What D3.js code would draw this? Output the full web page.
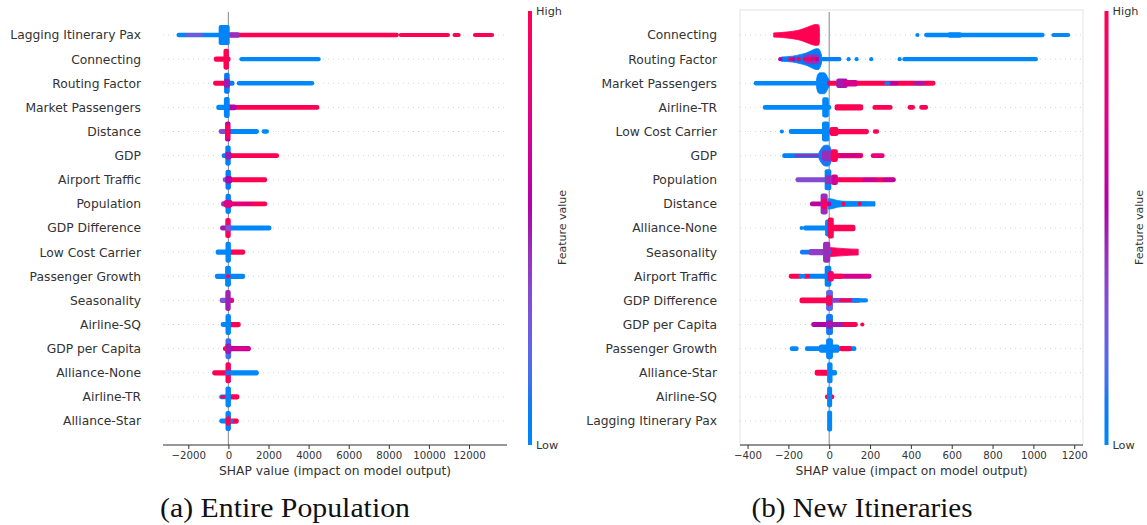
<!DOCTYPE html>
<html>
<head>
<meta charset="utf-8">
<script src="https://cdn.jsdelivr.net/npm/d3@7/dist/d3.min.js"></script>
<style>
  html, body { margin: 0; padding: 0; background: #fff; }
  svg { display: block; }
  text { font-family: "DejaVu Sans", sans-serif; fill: #333; }
  .caption { font-family: "Liberation Serif", "DejaVu Serif", serif; fill: #111; }
</style>
</head>
<body>
<svg id="chart" width="1147" height="525"></svg>
<script>
// ---------- Panel (a): Entire Population ----------
const featuresA = [
  "Lagging Itinerary Pax", "Connecting", "Routing Factor", "Market Passengers",
  "Distance", "GDP", "Airport Traffic", "Population", "GDP Difference",
  "Low Cost Carrier", "Passenger Growth", "Seasonality", "Airline-SQ",
  "GDP per Capita", "Alliance-None", "Airline-TR", "Alliance-Star"
];
const ticksA = [-2000, 0, 2000, 4000, 6000, 8000, 10000, 12000];
const domainA = [-3262, 13895];
// runs of SHAP values: [feature row, feature value (0 low .. 1 high), from, to, stacked points]
const runsA = [
  [0, 0.02, -2480, -300, 1.1], [0, 0.3, -2050, -1350, 0.8],
  [0, 1, 150, 8400, 1.05], [0, 1, 8600, 10950, 1.0], [0, 1, 11280, 11480, 1.0], [0, 1, 12300, 13150, 1.0],
  [0, 0.45, 60, 480, 1.3], [0, 0.03, -380, -40, 4.8],
  [1, 0, 650, 4500, 1.05], [1, 1, -620, 0, 1.25], [1, 1, -140, -80, 5],
  [2, 0, 520, 4180, 1.05], [2, 1, -660, 0, 1.15], [2, 0.05, -30, 200, 1.2],
  [2, 0.08, -110, -40, 5], [2, 0.5, -120, -20, 2.2],
  [3, 0, -500, 0, 1.3], [3, 1, 50, 4430, 1.15], [3, 0.55, 50, 300, 1.4], [3, 0.03, -120, -40, 5],
  [4, 0.35, -380, 0, 1.15], [4, 0, 0, 1420, 1.15], [4, 0, 1760, 1920, 1.05],
  [4, 0.6, -60, 0, 4.8], [4, 1, -40, -20, 3.5],
  [5, 0.05, -230, 0, 1.15], [5, 1, 0, 2420, 1.15], [5, 0.05, -50, 10, 4.8], [5, 0.5, -60, 60, 1.8],
  [6, 0.3, -180, 0, 1.15], [6, 1, 0, 1830, 1.15], [6, 0.08, -40, 20, 4.8], [6, 0.55, -50, 80, 1.8],
  [7, 0.45, -260, 0, 1.3], [7, 1, 0, 1830, 1.15], [7, 0.7, 300, 1100, 0.6],
  [7, 0.05, -40, 20, 4.8], [7, 0.75, -120, 100, 1.8],
  [8, 0.5, -310, 0, 1.15], [8, 0, 0, 2040, 1.15], [8, 0.95, -50, 10, 4.8], [8, 0.3, -40, 60, 1.6],
  [9, 0, -530, 0, 1.25], [9, 1, 0, 730, 1.25], [9, 0, -40, 20, 5],
  [10, 0, -570, 730, 1.25], [10, 0, -60, 20, 5], [10, 0.95, -20, 0, 1.0],
  [11, 0.3, -330, 0, 1.3], [11, 0.85, 0, 180, 1.3], [11, 0.48, -50, 10, 5],
  [12, 0, -280, 0, 1.15], [12, 1, 0, 510, 1.25], [12, 0, -40, 20, 5],
  [13, 1, -170, 0, 1.15], [13, 0.6, 0, 1010, 1.25], [13, 0.78, 300, 1010, 0.7],
  [13, 0.15, -40, 30, 5], [13, 0.5, -50, 40, 2.5],
  [14, 1, -700, 0, 1.25], [14, 0, 0, 1410, 1.25], [14, 0.95, -40, 20, 5], [14, 0.05, -60, 60, 1.2],
  [15, 0, -350, 0, 1.15], [15, 1, -300, -180, 0.8], [15, 1, 0, 440, 1.25], [15, 0, -40, 20, 5],
  [16, 0, -350, 0, 1.15], [16, 1, 0, 410, 1.25], [16, 0.1, 60, 150, 1.0],
  [16, 0.05, -40, 20, 4.8], [16, 1, -30, 10, 2.2]
];
const violinsA = [];
const dotsA = [];

// ---------- Panel (b): New Itineraries ----------
const featuresB = [
  "Connecting", "Routing Factor", "Market Passengers", "Airline-TR",
  "Low Cost Carrier", "GDP", "Population", "Distance", "Alliance-None",
  "Seasonality", "Airport Traffic", "GDP Difference", "GDP per Capita",
  "Passenger Growth", "Alliance-Star", "Airline-SQ", "Lagging Itinerary Pax"
];
const ticksB = [-400, -200, 0, 200, 400, 600, 800, 1000, 1200];
const domainB = [-437, 1243];
// dense clouds: [feature row, feature value, [[SHAP value, stacked points], ...]]
const violinsB = [
  [0, 1, [[-272, 1], [-200, 1.5], [-150, 2.3], [-118, 3.3], [-95, 4.2], [-78, 4.8], [-62, 5], [-52, 4.8], [-48, 3.5]]],
  [1, 0.08, [[-235, 1], [-180, 1.4], [-140, 2.2], [-110, 3], [-88, 4], [-70, 4.8], [-55, 5], [-45, 4], [-38, 2]]],
  [2, 0.02, [[-62, 2], [-56, 4.2], [-45, 5], [-25, 5], [-14, 4], [-6, 2.5], [2, 1.3]]],
  [5, 0.1, [[-50, 1.5], [-38, 3.5], [-25, 4.8], [-10, 5], [2, 4.5], [10, 2.5]]],
  [7, 0, [[-5, 2.5], [15, 2.3], [40, 1.6], [80, 1.2], [224, 1.05]]],
  [9, 0.95, [[0, 2.2], [40, 1.9], [100, 1.5], [142, 1.4]]]
];
const runsB = [
  [0, 0, 475, 1045, 1.05], [0, 0, 1098, 1170, 1.0], [0, 0, 590, 640, 1.3],
  [1, 0.45, -110, -60, 2.2], [1, 0.05, -45, 50, 1.05], [1, 0, 368, 1012, 1.05],
  [2, 0, -360, -20, 1.05], [2, 1, 0, 510, 1.15], [2, 0.55, 300, 330, 1.0], [2, 0.5, 420, 460, 1.0],
  [2, 0.1, 280, 290, 1.0], [2, 0.5, 45, 80, 2.3], [2, 0.7, 80, 130, 1.6],
  [3, 0, -315, 0, 1.15], [3, 0, -24, -12, 4.8], [3, 1, 37, 156, 1.5], [3, 1, 222, 300, 1.15],
  [3, 1, 394, 410, 1.1], [3, 1, 451, 474, 1.1],
  [4, 0, -188, 0, 1.15], [4, 0, -25, -10, 4.8], [4, 1, 12, 184, 1.25], [4, 1, 12, 35, 2.1], [4, 1, 224, 234, 1.1],
  [5, 0.05, -220, 0, 1.15], [5, 0.45, -160, -60, 0.7], [5, 1, 0, 156, 1.2], [5, 0.6, 60, 150, 0.7],
  [5, 0.8, 214, 261, 1.15], [5, 0.45, -25, 5, 2.5], [5, 1, 18, 32, 3],
  [6, 0.35, -155, 0, 1.15], [6, 1, 0, 315, 1.15], [6, 0.65, 170, 230, 0.9], [6, 0.6, 270, 315, 1.0],
  [6, 0.03, -12, 0, 5], [6, 0.7, 20, 32, 2.5], [6, 0.45, -10, 5, 2.2],
  [7, 0.6, -84, 0, 1.15], [7, 0.45, -32, -18, 5], [7, 0.9, -28, -20, 2.5],
  [8, 0, -118, 0, 1.15], [8, 0, -10, 0, 4], [8, 1, 3, 12, 5], [8, 1, 12, 118, 1.6],
  [9, 0.1, -133, 0, 1.15], [9, 0.4, -90, -20, 1.5], [9, 0.45, -20, -5, 5],
  [10, 0.05, -100, 0, 1.15], [10, 1, -188, -140, 1.15], [10, 1, -120, -105, 1.15], [10, 0, -140, -125, 1.1],
  [10, 0.7, 0, 197, 1.15], [10, 1, 0, 60, 1.2], [10, 0.05, -12, 0, 5], [10, 0.9, 2, 12, 2.5],
  [11, 1, -135, 0, 1.4], [11, 0.4, 0, 143, 1.15], [11, 1, 60, 110, 0.8], [11, 0, 120, 180, 1.0],
  [11, 0.2, -5, 8, 5], [11, 1, -5, 5, 2.5],
  [12, 0.55, -78, 0, 1.15], [12, 1, 0, 130, 1.15], [12, 0.5, 20, 60, 1.2], [12, 0.1, -5, 8, 5], [12, 0.5, -5, 8, 2],
  [13, 0, -183, -160, 1.15], [13, 0, -109, 0, 1.15], [13, 0, 0, 123, 1.15], [13, 1, 60, 100, 1.2],
  [13, 0, -5, 8, 5], [13, 0, -40, 40, 2],
  [14, 1, -61, 0, 1.4], [14, 0, 0, 28, 1.3], [14, 0, 0, 6, 5],
  [15, 1, -11, 15, 1.1], [15, 0, 0, 4, 5],
  [16, 0, 0, 4, 5]
];
// isolated points: [feature row, feature value, SHAP value]
const dotsB = [
  [0, 0, 432],
  [1, 0.6, -240], [1, 1, -190], [1, 0.6, -175], [1, 1, -150], [1, 1, -120], [1, 0.5, -100],
  [1, 1, -95], [1, 0.5, -80], [1, 1, -70], [1, 0.55, -60],
  [1, 0, 95], [1, 0, 134], [1, 0, 206], [1, 0, 345],
  [4, 0, -232],
  [7, 1, 70], [7, 1, 150],
  [8, 0, -135],
  [12, 1, 162]
];

const captions = ["(a) Entire Population", "(b) New Itineraries"];
const xTitle = "SHAP value (impact on model output)";

// ---------- SHAP red-blue colour map (interpolated in LCh) ----------
function shapColor(t) {
  const l = t < 0.5 ? 54 - 28 * t : 40 + 28 * (t - 0.5);
  const c = 70 + 20 * t;
  const h = 266.93 + t * (380.32 - 266.93);
  return d3.hcl(h % 360, c, l).formatHex();
}

const svg = d3.select("#chart");
const defs = svg.append("defs");
const grad = defs.append("linearGradient").attr("id", "cbar")
  .attr("x1", 0).attr("y1", 1).attr("x2", 0).attr("y2", 0);
d3.range(0, 1.0001, 0.05).forEach(t => {
  grad.append("stop").attr("offset", t).attr("stop-color", shapColor(t));
});

const R = 2.1; // dot radius in px

function drawPanel(cfg) {
  const g = svg.append("g");
  const x = d3.scaleLinear().domain(cfg.domain).range([cfg.left, cfg.right]);
  const y = d3.scaleLinear().domain([0, cfg.features.length - 1]).range([35, 421]);
  const top = 10, bottom = 445;

  if (cfg.frame) {
    g.append("rect").attr("x", cfg.left).attr("y", top)
      .attr("width", cfg.right - cfg.left).attr("height", bottom - top)
      .attr("fill", "none").attr("stroke", "#e4e4e4").attr("stroke-width", 1);
  }

  // dotted row guides
  g.selectAll("line.row").data(cfg.features).join("line")
    .attr("class", "row")
    .attr("x1", cfg.left).attr("x2", cfg.right)
    .attr("y1", (d, i) => y(i)).attr("y2", (d, i) => y(i))
    .attr("stroke", "#cccccc").attr("stroke-width", 0.8)
    .attr("stroke-dasharray", "1,4");

  // zero line
  g.append("line")
    .attr("x1", x(0)).attr("x2", x(0)).attr("y1", top + 2).attr("y2", bottom)
    .attr("stroke", "#999999").attr("stroke-width", 1.2);

  // feature names
  g.selectAll("text.feat").data(cfg.features).join("text")
    .attr("class", "feat")
    .attr("x", cfg.labelX).attr("y", (d, i) => y(i)).attr("dy", "0.36em")
    .attr("text-anchor", "end").attr("font-size", 12.3)
    .text(d => d);

  // dense clouds
  const area = d3.area().curve(d3.curveMonotoneX);
  g.selectAll("path.cloud").data(cfg.violins).join("path")
    .attr("class", "cloud")
    .attr("d", d => area
      .x(p => x(p[0]))
      .y0(p => y(d[0]) - p[1] * R)
      .y1(p => y(d[0]) + p[1] * R)(d[2]))
    .attr("fill", d => shapColor(d[1]))
    .attr("stroke", d => shapColor(d[1])).attr("stroke-width", 0.8)
    .attr("stroke-linejoin", "round");

  // runs of overlapping points
  g.selectAll("rect.run").data(cfg.runs).join("rect")
    .attr("class", "run")
    .attr("x", d => x(d[2]) - R)
    .attr("width", d => x(d[3]) - x(d[2]) + 2 * R)
    .attr("y", d => y(d[0]) - d[4] * R)
    .attr("height", d => 2 * d[4] * R)
    .attr("rx", d => Math.min(R, d[4] * R)).attr("ry", d => Math.min(R, d[4] * R))
    .attr("fill", d => shapColor(d[1]));

  // isolated points
  g.selectAll("circle.pt").data(cfg.dots).join("circle")
    .attr("class", "pt")
    .attr("cx", d => x(d[2])).attr("cy", d => y(d[0])).attr("r", R)
    .attr("fill", d => shapColor(d[1]));

  // x axis
  const ax = g.append("g").attr("transform", `translate(0,${bottom})`)
    .call(d3.axisBottom(x).tickValues(cfg.ticks).tickSize(4).tickPadding(3)
      .tickFormat(d => d < 0 ? "\u2212" + Math.abs(d) : String(d)));
  ax.select(".domain").attr("stroke", "#333").attr("stroke-width", 1)
    .attr("d", `M${cfg.left},0H${cfg.right}`);
  ax.selectAll(".tick line").attr("stroke", "#333");
  ax.selectAll(".tick text").attr("font-size", 10.2).attr("fill", "#333")
    .attr("font-family", "DejaVu Sans, sans-serif");

  g.append("text")
    .attr("x", (cfg.left + cfg.right) / 2).attr("y", 475)
    .attr("text-anchor", "middle").attr("font-size", 12.3)
    .text(xTitle);

  // colour bar
  g.append("rect").attr("x", cfg.cbarX).attr("y", top + 1)
    .attr("width", 4).attr("height", bottom - top - 1)
    .attr("fill", "url(#cbar)");
  g.append("text").attr("x", cfg.cbarX + 8).attr("y", top + 1).attr("dy", "0.36em")
    .attr("font-size", 11.3).text("High");
  g.append("text").attr("x", cfg.cbarX + 8).attr("y", bottom).attr("dy", "0.36em")
    .attr("font-size", 11.3).text("Low");
  g.append("text")
    .attr("transform", `translate(${cfg.cbarX + 34.5},${(top + bottom) / 2}) rotate(-90)`)
    .attr("text-anchor", "middle").attr("dy", "0.36em")
    .attr("font-size", 11).text("Feature value");

  // caption
  g.append("text").attr("class", "caption")
    .attr("x", cfg.captionX).attr("y", 517)
    .attr("text-anchor", "middle").attr("font-size", 27)
    .attr("textLength", cfg.captionWidth).attr("lengthAdjust", "spacingAndGlyphs")
    .text(cfg.caption);
}

drawPanel({
  features: featuresA, ticks: ticksA, domain: domainA,
  runs: runsA, violins: violinsA, dots: dotsA,
  left: 163, right: 507, labelX: 141, cbarX: 528,
  frame: false, caption: captions[0], captionX: 285, captionWidth: 250
});
drawPanel({
  features: featuresB, ticks: ticksB, domain: domainB,
  runs: runsB, violins: violinsB, dots: dotsB,
  left: 740, right: 1083, labelX: 717, cbarX: 1104.5,
  frame: true, caption: captions[1], captionX: 862, captionWidth: 221
});
</script>
</body>
</html>
